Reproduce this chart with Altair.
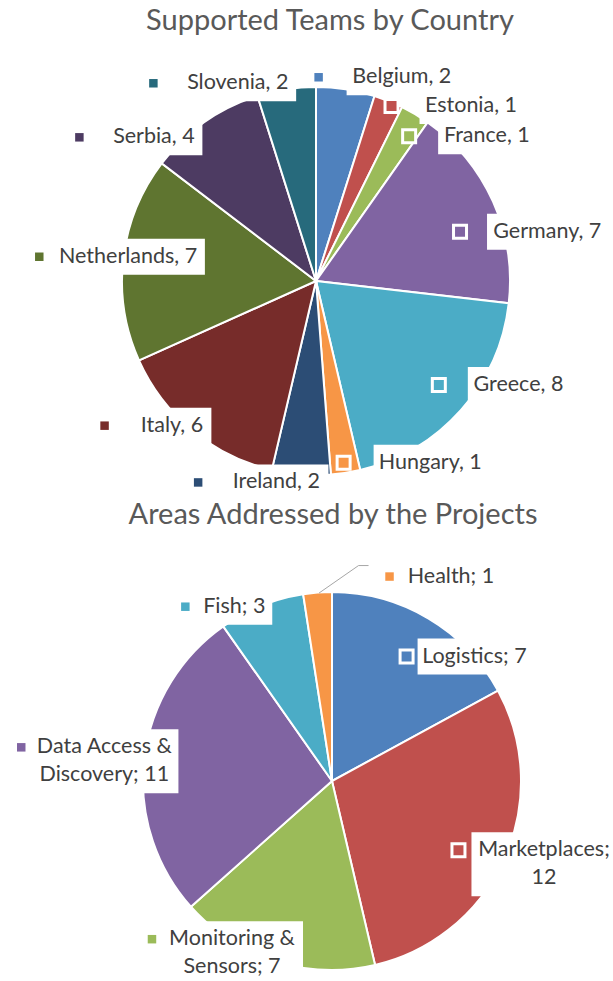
import math
import altair as alt
import pandas as pd

# ---------------- data ----------------
titles = ["Supported Teams by Country", "Areas Addressed by the Projects"]

countries = ["Belgium", "Estonia", "France", "Germany", "Greece", "Hungary",
             "Ireland", "Italy", "Netherlands", "Serbia", "Slovenia"]
teams = [2, 1, 1, 7, 8, 1, 2, 6, 7, 4, 2]

areas = ["Logistics", "Marketplaces", "Monitoring & Sensors",
         "Data Access & Discovery", "Fish", "Health"]
projects = [7, 12, 7, 11, 3, 1]

# ---------------- styles / layout ----------------
country_colors = ["#4F81BD", "#C0504D", "#9BBB59", "#8064A2", "#4BACC6", "#F79646",
                  "#2C4D75", "#772C2A", "#5F7530", "#4D3B62", "#276A7C"]
area_colors = ["#4F81BD", "#C0504D", "#9BBB59", "#8064A2", "#4BACC6", "#F79646"]

FONT = "Lato"
LABEL_FS = 21.5
TITLE_FS = 29
LINE_H = 28
TEXT_COLOR = "#404040"
TITLE_COLOR = "#595959"

PIE1 = dict(cx=316, cy=281, r=194)
PIE2 = dict(cx=332, cy=781, r=189)
title_pos = [(330, 30), (333, 524)]

# label placement: offset of the legend key from the slice's mid-angle edge point,
# gap key->text, key drawn inside the slice (white outline)
layout1 = {
    "Belgium": (-27, -12, 34, False),
    "Estonia": (3, 5, 34, True),
    "France": (-6, 22, 35, True),
    "Germany": (-33, 30, 33, True),
    "Greece": (-22, -25, 35, True),
    "Hungary": (-2, -10, 36, True),
    "Ireland": (-103, 8, 34, False),
    "Italy": (-88, -5, 36, False),
    "Netherlands": (-84, -2, 20, False),
    "Serbia": (-125, 15, 34, False),
    "Slovenia": (-133, -6, 34, False),
}
layout2 = {
    "Logistics": (-22, 38, 17, True),
    "Marketplaces": (-46, -8, 19, True),
    "Monitoring & Sensors": (-123, -22, 17, False),
    "Data Access & Discovery": (-123, -12, 17, False),
    "Fish": (-76, 1, 19, False),
    "Health": (72, -16, 19, False),
}
wrap2 = {"Marketplaces": ";", "Monitoring & Sensors": "&", "Data Access & Discovery": "&"}
leader2 = {"Health": True}

# approximate glyph advance widths (per 1000 em) used to size the label boxes
CW = {' ': 226, ',': 250, ';': 268, '&': 682, 'A': 579, 'B': 544, 'C': 533, 'D': 615,
      'E': 488, 'F': 459, 'G': 631, 'H': 623, 'I': 252, 'L': 420, 'M': 855, 'N': 646,
      'P': 517, 'S': 459, 'T': 487, 'a': 479, 'b': 525, 'c': 423, 'd': 525, 'e': 498,
      'f': 305, 'g': 471, 'h': 525, 'i': 229, 'j': 239, 'k': 455, 'l': 229, 'm': 799,
      'n': 525, 'o': 527, 'p': 525, 'r': 349, 's': 391, 't': 335, 'u': 525, 'v': 452,
      'y': 453}


def text_w(s):
    return sum(CW.get(ch, 507) for ch in s) / 1000 * 23


def build(names, values, colors, pie, layout, sep, wrap=None, leader=None):
    wrap = wrap or {}
    leader = leader or {}
    total = sum(values)
    arcs, boxes, keys, texts, leads = [], [], [], [], []
    cum = 0
    for i, (n, v, c) in enumerate(zip(names, values, colors)):
        arcs.append(dict(name=n, value=v, idx=i, color=c))
        mid = (cum + v / 2) / total * 2 * math.pi
        cum += v
        ex = pie["cx"] + pie["r"] * math.sin(mid)
        ey = pie["cy"] - pie["r"] * math.cos(mid)
        dx, dy, gap, inside = layout[n]
        mx, my = ex + dx, ey + dy
        label = f"{n}{sep}{v}"
        if n in wrap:
            ch = wrap[n]
            k = label.index(ch) + 1
            label = label[:k] + "\n" + label[k:].lstrip()
        lines = label.split("\n")
        W = max(text_w(l) for l in lines)
        left = mx + gap
        tcx = left + W / 2
        nl = len(lines)
        boxes.append(dict(x0=left - 6, x1=left + W + 8, y0=my - 18,
                          y1=my + (nl - 1) * LINE_H + 18))
        keys.append(dict(x=mx, y=my, color=c, inside=inside))
        # first line sits at the key's height, further lines flow downwards
        texts.append(dict(x=tcx, y=my, label=label))
        if n in leader:
            pts = [(ex + 1.5, ey + 0.5), (mx - 31, my - 11), (mx - 21, my - 11)]
            for k, (px, py) in enumerate(pts):
                leads.append(dict(x=px, y=py, k=k, name=n))
    return (pd.DataFrame(arcs), pd.DataFrame(boxes), pd.DataFrame(keys),
            pd.DataFrame(texts), pd.DataFrame(leads))


def layers(names, values, colors, pie, layout, sep, wrap=None, leader=None):
    arcs, boxes, keys, texts, leads = build(names, values, colors, pie, layout, sep, wrap, leader)
    out = []
    out.append(alt.Chart(arcs).mark_arc(outerRadius=pie["r"], stroke="white", strokeWidth=2).encode(
        theta=alt.Theta("value:Q", stack=True),
        order=alt.Order("idx:Q"),
        color=alt.Color("color:N", scale=None),
        x=alt.value(pie["cx"]), y=alt.value(pie["cy"]),
    ))
    out.append(alt.Chart(boxes).mark_rect(color="white").encode(
        x=alt.X("x0:Q", scale=None, axis=None), x2="x1:Q",
        y=alt.Y("y0:Q", scale=None, axis=None), y2="y1:Q",
    ))
    if len(leads):
        out.append(alt.Chart(leads).mark_line(color="#A6A6A6", strokeWidth=1).encode(
            x=alt.X("x:Q", scale=None, axis=None), y=alt.Y("y:Q", scale=None, axis=None),
            order="k:Q", detail="name:N",
        ))
    ins = keys[keys["inside"]]
    outs = keys[~keys["inside"]]
    if len(ins):
        out.append(alt.Chart(ins).mark_square(size=169, stroke="white", strokeWidth=3, opacity=1).encode(
            x=alt.X("x:Q", scale=None, axis=None), y=alt.Y("y:Q", scale=None, axis=None),
            color=alt.Color("color:N", scale=None),
        ))
    if len(outs):
        out.append(alt.Chart(outs).mark_square(size=72, opacity=1, strokeWidth=0).encode(
            x=alt.X("x:Q", scale=None, axis=None), y=alt.Y("y:Q", scale=None, axis=None),
            color=alt.Color("color:N", scale=None),
        ))
    out.append(alt.Chart(texts).mark_text(font=FONT, fontSize=LABEL_FS, color=TEXT_COLOR,
                                          align="center", baseline="middle",
                                          lineBreak="\n", lineHeight=LINE_H).encode(
        x=alt.X("x:Q", scale=None, axis=None), y=alt.Y("y:Q", scale=None, axis=None),
        text="label:N",
    ))
    return out


tdf = pd.DataFrame(dict(title=titles, x=[p[0] for p in title_pos], y=[p[1] for p in title_pos]))
title_layer = alt.Chart(tdf).mark_text(font=FONT, fontSize=TITLE_FS, color=TITLE_COLOR,
                                       align="center", baseline="alphabetic").encode(
    x=alt.X("x:Q", scale=None, axis=None), y=alt.Y("y:Q", scale=None, axis=None),
    text="title:N",
)

all_layers = (layers(countries, teams, country_colors, PIE1, layout1, ", ")
              + layers(areas, projects, area_colors, PIE2, layout2, "; ", wrap2, leader2)
              + [title_layer])

chart = alt.layer(*all_layers).resolve_scale(theta="independent").properties(
    width=613, height=981, padding=0,
    autosize=alt.AutoSizeParams(type="none"),
).configure_view(stroke=None)

chart.save("out.html", embed_options={"renderer": "svg", "actions": False})
